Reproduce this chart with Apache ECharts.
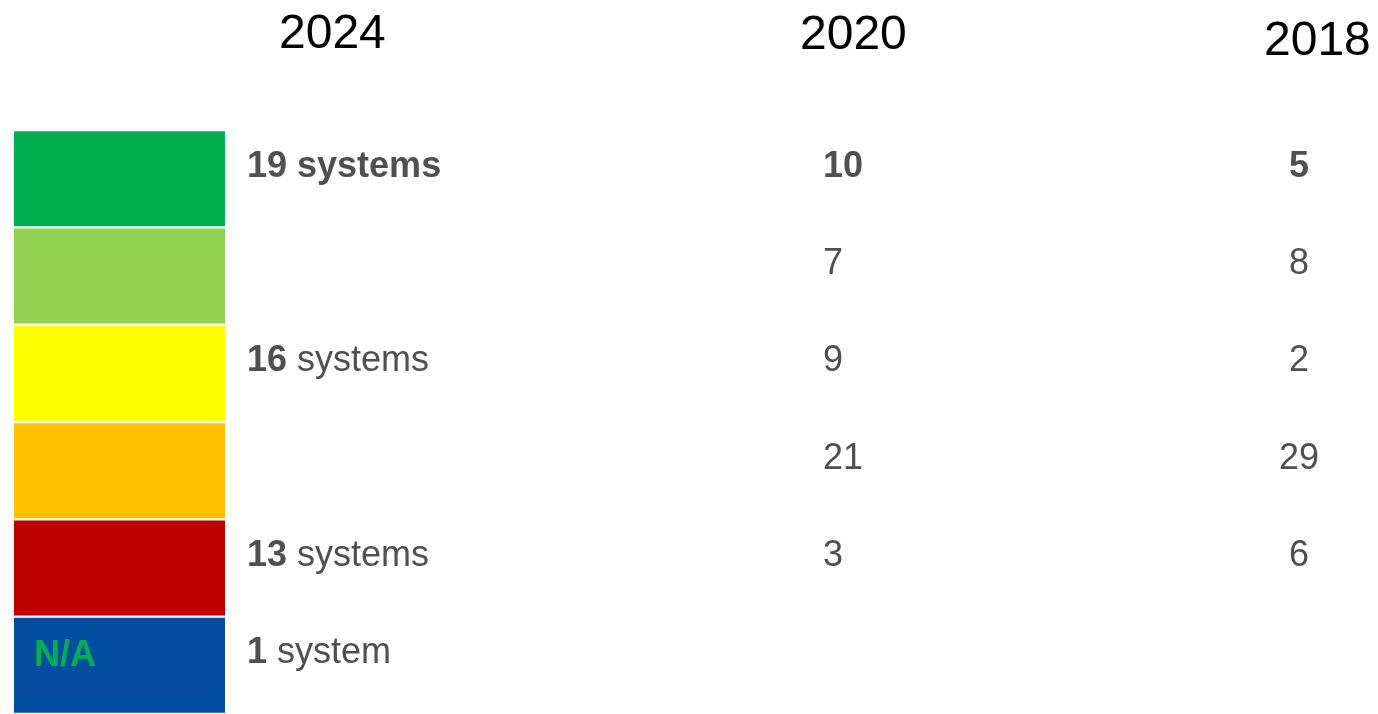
<!DOCTYPE html>
<html>
<head>
<meta charset="utf-8">
<script src="https://cdn.jsdelivr.net/npm/echarts@6/dist/echarts.min.js"></script>
<style>
html,body{margin:0;padding:0;background:#fff;}
#chart{width:1378px;height:714px;}
</style>
</head>
<body>
<div id="chart"></div>
<script>
// ---- data ----
var rows = ['Very good', 'Good', 'Fair', 'Poor', 'Very poor', 'N/A'];
var rowColors = ['#00B050', '#92D050', '#FFFF00', '#FFC000', '#C00000', '#034EA2'];
var boxText = ['', '', '', '', '', 'N/A'];
var years = ['2024', '2020', '2018'];
var systems2024 = [19, null, 16, null, 13, 1];
var values2020 = [10, 7, 9, 21, 3, null];
var values2018 = [5, 8, 2, 29, 6, null];

var FONT = '"Liberation Sans", Arial, Helvetica, sans-serif';
var GRAY = '#505050';
var LBL = 36;

var chart = echarts.init(document.getElementById('chart'), null, {renderer: 'canvas'});

function yAxis(gi) {
  return {
    type: 'category', data: rows, inverse: true, gridIndex: gi,
    axisLine: {show: false}, axisTick: {show: false}, axisLabel: {show: false}, splitLine: {show: false}
  };
}

var rich = {
  b: {fontFamily: FONT, fontSize: LBL, fontWeight: 'bold', color: GRAY},
  n: {fontFamily: FONT, fontSize: LBL, fontWeight: 'normal', color: GRAY}
};

function yearSeries(vals, gi, xName, align) {
  return {
    type: 'scatter', xAxisIndex: gi, yAxisIndex: gi, symbolSize: 0, silent: true,
    itemStyle: {opacity: 1},
    data: vals.map(function (v, i) { return v == null ? null : [xName, rows[i], v]; }).filter(function(d){return d;}),
    label: {
      show: true, position: 'inside', align: align, verticalAlign: 'middle', offset: [0, -12],
      formatter: function (p) {
        var idx = rows.indexOf(p.value[1]);
        return idx === 0 ? '{b|' + p.value[2] + '}' : '{n|' + p.value[2] + '}';
      },
      rich: rich
    }
  };
}

var HEAD = {fontFamily: FONT, fontSize: 48, fontWeight: 'normal', color: '#000'};

var option = {
  animation: false,
  backgroundColor: '#ffffff',
  title: [
    {text: years[0], left: 279, top: 11, padding: 0, textStyle: HEAD},
    {text: years[1], left: 800, top: 12, padding: 0, textStyle: HEAD},
    {text: years[2], left: 1264, top: 18, padding: 0, textStyle: HEAD}
  ],
  grid: [
    {left: 14, width: 211, top: 130, height: 588},
    {left: 823, right: 79, top: 130, height: 588}
  ],
  xAxis: [
    {type: 'value', min: 0, max: 1, gridIndex: 0, show: false},
    {type: 'category', data: [years[1], years[2]], boundaryGap: false, gridIndex: 1, show: false}
  ],
  yAxis: [yAxis(0), yAxis(1)],
  series: [
    {
      type: 'bar', xAxisIndex: 0, yAxisIndex: 0, barWidth: 95, silent: true,
      data: rows.map(function (r, i) { return {value: 1, itemStyle: {color: rowColors[i]}}; }),
      label: {
        show: true, position: 'right', distance: 22, offset: [0, -12],
        formatter: function (p) {
          var v = systems2024[p.dataIndex];
          if (v == null) return '';
          var unit = v === 1 ? 'system' : 'systems';
          return p.dataIndex === 0 ? '{b|' + v + ' ' + unit + '}' : '{b|' + v + '}{n| ' + unit + '}';
        },
        rich: rich
      }
    },
    {
      type: 'bar', xAxisIndex: 0, yAxisIndex: 0, barWidth: 95, barGap: '-100%', silent: true,
      itemStyle: {color: 'rgba(0,0,0,0)'},
      data: rows.map(function () { return 1; }),
      label: {
        show: true, position: 'insideLeft', distance: 20, offset: [0, -9],
        formatter: function (p) { return boxText[p.dataIndex]; },
        fontFamily: FONT, fontSize: LBL, fontWeight: 'bold', color: '#00B050'
      }
    },
    yearSeries(values2020, 1, years[1], 'left'),
    yearSeries(values2018, 1, years[2], 'center')
  ]
};
chart.setOption(option);
</script>
</body>
</html>
